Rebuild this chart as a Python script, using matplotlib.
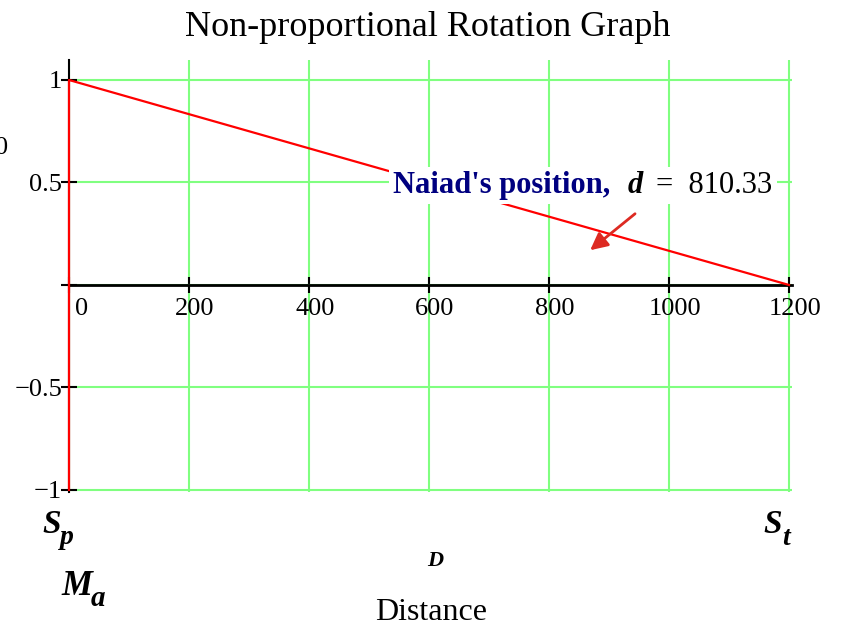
import matplotlib.pyplot as plt
from matplotlib.transforms import offset_copy

# data
distance = [0, 0, 1200]
rotation = [-1, 1, 0]
x_ticks = [0, 200, 400, 600, 800, 1000, 1200]
y_ticks = [-1, -0.5, 0, 0.5, 1]
y_tick_labels = ['\u22121', '\u22120.5', '', '0.5', '1']
naiad_d = 810.33

plt.rcParams['font.family'] = ['Liberation Serif', 'DejaVu Serif']

W, H = 841, 627
fig = plt.figure(figsize=(W / 100, H / 100), dpi=100)


def px(x, y):
    return x / W, 1 - y / H


ax = fig.add_axes([69 / W, (H - 492) / H, (792 - 69) / W, (492 - 59.5) / H])
ax.set_xlim(0, 1205)
ax.set_ylim(-1.01, 1.1)

ax.set_xticks(x_ticks)
ax.set_yticks(y_ticks)
ax.set_yticklabels(y_tick_labels)
ax.set_xticklabels([])
ax.grid(color='#80ff80', lw=1.5)
ax.set_axisbelow(True)

for s in ['top', 'right']:
    ax.spines[s].set_visible(False)
ax.spines['bottom'].set_position(('data', 0))
ax.spines['bottom'].set_linewidth(2)
ax.spines['left'].set_linewidth(1.5)
ax.tick_params(axis='both', direction='inout', length=12, width=1.5, labelsize=19)
ax.tick_params(axis='y', pad=-1)

# x tick labels sit a little right of their ticks
for v in x_ticks:
    dx = 13 if v == 0 else 6
    tr = offset_copy(ax.transData, fig=fig, x=dx, y=-13, units='dots')
    ax.text(v, 0, str(v), transform=tr, ha='center', va='top', fontsize=19)

ax.plot(distance, rotation, color='red', lw=1.6, zorder=3, clip_on=False)

# annotation
t1 = ax.text(540, 0.449, "Naiad's position,", color='#000080', fontweight='bold',
             fontsize=22, va='baseline', zorder=4,
             bbox=dict(fc='white', ec='none', pad=3))
t3 = ax.annotate('=  %.2f' % naiad_d, xy=(1, 0), xycoords=t1, xytext=(33, 0),
                 textcoords='offset points', va='bottom', ha='left',
                 fontsize=22, color='black', zorder=4,
                 bbox=dict(fc='white', ec='none', pad=3))
t2 = ax.annotate('d', xy=(1, 0), xycoords=t1, xytext=(12.5, 0),
                 textcoords='offset points', va='bottom', ha='left', fontsize=22,
                 fontweight='bold', fontstyle='italic', color='black', zorder=5,
                 bbox=dict(fc='white', ec='none', pad=10))
ax.annotate('', xy=(865, 0.161), xytext=(947, 0.356), zorder=6,
            arrowprops=dict(arrowstyle='-|>', color='#dd2a22', lw=2, mutation_scale=26))

# surrounding labels
fig.text(*px(428, 28), 'Non-proportional Rotation Graph', ha='center', va='center', fontsize=26)
fig.text(*px(-5, 148), '0', ha='left', va='center', fontsize=19)
fig.text(*px(42, 533), 'S', ha='left', va='baseline', fontsize=24, fontweight='bold', fontstyle='italic')
fig.text(*px(60, 544), 'p', ha='left', va='baseline', fontsize=20, fontweight='bold', fontstyle='italic')
fig.text(*px(763, 533), 'S', ha='left', va='baseline', fontsize=24, fontweight='bold', fontstyle='italic')
fig.text(*px(782, 545), 't', ha='left', va='baseline', fontsize=20, fontweight='bold', fontstyle='italic')
fig.text(*px(61, 595), 'M', ha='left', va='baseline', fontsize=25, fontweight='bold', fontstyle='italic')
fig.text(*px(91, 606), 'a', ha='left', va='baseline', fontsize=21, fontweight='bold', fontstyle='italic')
fig.text(*px(435, 566), 'D', ha='center', va='baseline', fontsize=16, fontweight='bold', fontstyle='italic')
fig.text(*px(431, 620), 'Distance', ha='center', va='baseline', fontsize=23)

fig.savefig('out.png', dpi=100)
